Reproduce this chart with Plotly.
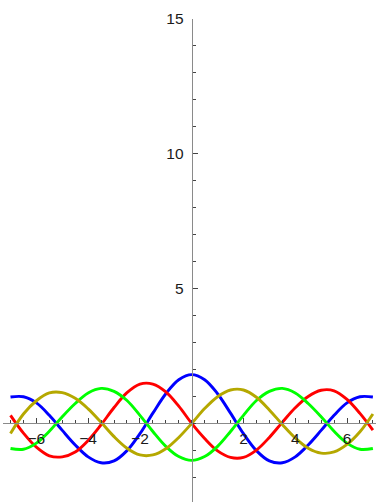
import plotly.graph_objects as go

# Sample positions along x
x = [-7.0, -6.5, -6.0, -5.5, -5.0, -4.5, -4.0, -3.5, -3.0, -2.5, -2.0, -1.5, -1.0, -0.5,
     0.0, 0.5, 1.0, 1.5, 2.0, 2.5, 3.0, 3.5, 4.0, 4.5, 5.0, 5.5, 6.0, 6.5, 7.0]

blue = [0.98, 0.99, 0.76, 0.30, -0.26, -0.80, -1.24, -1.46, -1.39, -1.01, -0.38, 0.38, 1.10, 1.62,
        1.81, 1.62, 1.10, 0.38, -0.38, -1.01, -1.39, -1.46, -1.24, -0.80, -0.26, 0.30, 0.76, 0.99, 0.98]

green = [-0.93, -0.96, -0.73, -0.29, 0.25, 0.74, 1.13, 1.30, 1.19, 0.85, 0.30, -0.30, -0.85, -1.23,
         -1.37, -1.23, -0.85, -0.30, 0.30, 0.85, 1.19, 1.30, 1.13, 0.74, 0.25, -0.29, -0.73, -0.96, -0.93]

red = [0.30, -0.36, -0.88, -1.20, -1.24, -1.06, -0.63, -0.05, 0.59, 1.14, 1.46, 1.46, 1.17, 0.64,
       0.0, -0.56, -1.02, -1.26, -1.26, -0.99, -0.52, 0.04, 0.58, 1.00, 1.23, 1.21, 0.89, 0.37, -0.25]

olive = [-0.37, 0.35, 0.84, 1.13, 1.14, 0.93, 0.54, 0.04, -0.49, -0.92, -1.17, -1.17, -0.94, -0.52,
         0.0, 0.55, 0.99, 1.24, 1.24, 0.97, 0.50, -0.04, -0.54, -0.92, -1.10, -1.06, -0.78, -0.31, 0.35]

x_ticks = [-6, -4, -2, 2, 4, 6]
y_ticks = [5, 10, 15]

series = [
    (blue, "#0000ff"),
    (red, "#ff0000"),
    (green, "#00ff00"),
    (olive, "#b5a800"),
]

W, H = 379, 502
x_range = [-7.29, 7.12]
y_range = [-2.915, 15.0]

fig = go.Figure()
for values, color in series:
    fig.add_trace(go.Scatter(
        x=x, y=values, mode="lines",
        line=dict(color=color, width=2.9, shape="spline", smoothing=1.0),
        showlegend=False, hoverinfo="skip",
    ))

# axes cross at the origin
x_pos = (0 - y_range[0]) / (y_range[1] - y_range[0])
y_pos = (0 - x_range[0]) / (x_range[1] - x_range[0])

tick_font = dict(family="Liberation Sans, Arial, sans-serif", size=15.5, color="#1a1a1a")

fig.update_layout(
    width=W, height=H,
    margin=dict(l=3, r=3, t=19, b=0),
    paper_bgcolor="white", plot_bgcolor="white",
    xaxis=dict(
        range=x_range, anchor="free", position=x_pos,
        showgrid=False, zeroline=False,
        showline=True, linecolor="#8a8a8a", linewidth=1,
        tickvals=x_ticks, ticks="inside", ticklen=5, tickwidth=1, tickcolor="#444444",
        tickfont=tick_font, ticklabelstandoff=1,
        minor=dict(dtick=0.5, tick0=0, ticks="inside", ticklen=3, tickwidth=1,
                   tickcolor="#444444", showgrid=False),
    ),
    yaxis=dict(
        range=y_range, anchor="free", position=y_pos,
        showgrid=False, zeroline=False,
        showline=True, linecolor="#8a8a8a", linewidth=1,
        tickvals=y_ticks, ticks="inside", ticklen=5, tickwidth=1, tickcolor="#444444",
        tickfont=tick_font, ticklabelstandoff=5,
        minor=dict(dtick=1, tick0=0, ticks="inside", ticklen=3, tickwidth=1,
                   tickcolor="#444444", showgrid=False),
    ),
)

fig.write_html("out.html")
